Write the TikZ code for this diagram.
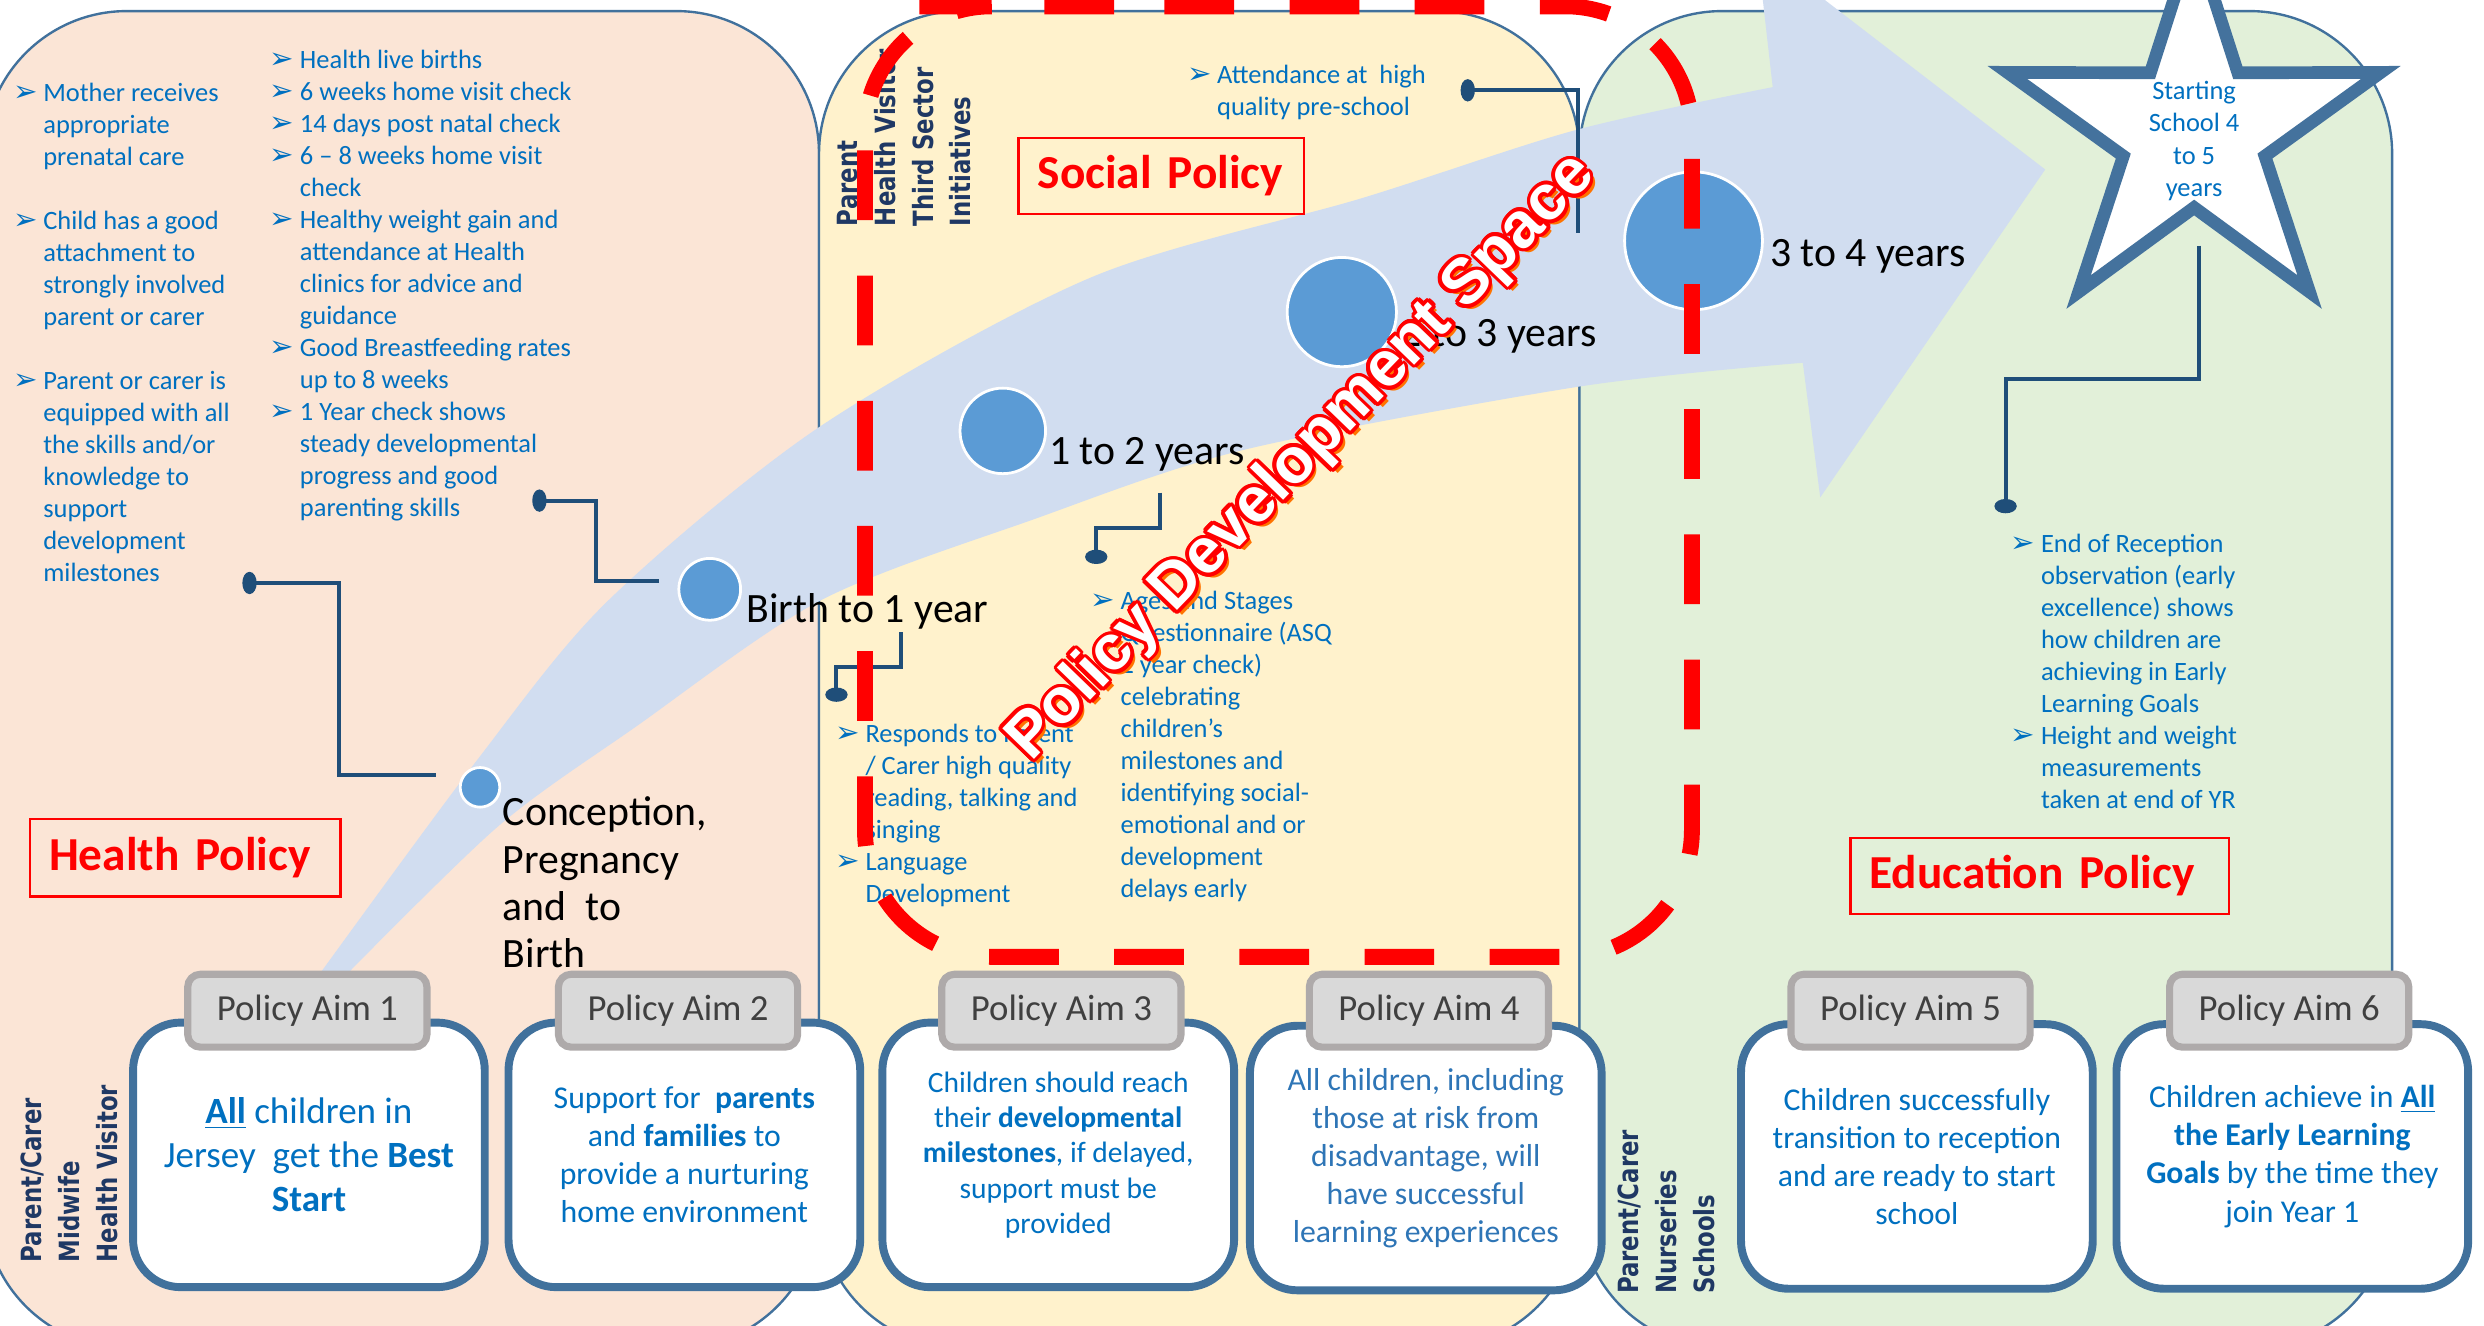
\documentclass[tikz,border=0pt]{standalone}
\usepackage{fontspec}
\setmainfont{Carlito}
\newfontfamily\bulfont{DejaVu Sans}
\newfontfamily\vertfont{DejaVu Sans}
\newfontfamily\pdsfont{Liberation Sans}
\usetikzlibrary{arrows.meta}

\definecolor{peach}{RGB}{251,229,214}
\definecolor{cream}{RGB}{255,242,204}
\definecolor{mint}{RGB}{226,240,217}
\definecolor{edge}{RGB}{65,113,156}
\definecolor{band}{RGB}{209,221,240}
\definecolor{dotblue}{RGB}{91,155,213}
\definecolor{navy}{RGB}{31,78,121}
\definecolor{txtblue}{RGB}{0,112,192}
\definecolor{aimblue}{RGB}{46,117,182}
\definecolor{vnavy}{RGB}{31,56,100}
\definecolor{tabgray}{RGB}{217,217,217}
\definecolor{tabedge}{RGB}{174,170,170}
\definecolor{tabtext}{RGB}{64,64,64}
\definecolor{staredge}{RGB}{68,114,157}

\newcommand\bl{\makebox[3.8mm][l]{\bulfont\fontsize{10.5}{9}\selectfont ➢}}
\newcommand\ind{\hspace*{3.8mm}}
\newcommand\pdslabel{Policy Development Space}

\tikzset{
  panel/.style={draw=edge, line width=0.3mm, rounded corners=18mm},
  bullets/.style={anchor=north west, inner sep=0pt, align=left, text=txtblue, font=\fontsize{9.5}{11.5}\selectfont},
  agedot/.style={circle, fill=dotblue, draw=white, line width=0.35mm, inner sep=0pt},
  agelab/.style={anchor=west, inner sep=0pt, align=left, font=\fontsize{15}{17}\selectfont},
  link/.style={draw=navy, line width=0.5mm, -{Ellipse[length=1.8mm,width=2.8mm]}},
  policy/.style={draw=red, line width=0.3mm, text=red, inner xsep=2.4mm, inner ysep=0pt, align=left, font=\fontsize{17}{20}\selectfont\bfseries},
  vlab/.style={rotate=90, xscale=0.82, anchor=north west, inner sep=0pt, align=left, text=vnavy, font=\vertfont\bfseries\fontsize{10}{13.6}\selectfont},
  starline/.style={draw=staredge, fill=white, line width=1.6mm},
  startxt/.style={align=center, inner sep=0pt, text=txtblue, font=\fontsize{9.5}{11.5}\selectfont},
  aimbox/.style={draw=edge, fill=white, line width=1mm, rounded corners=6mm, minimum width=44.4mm, minimum height=33.4mm, align=center, text=txtblue, font=\fontsize{11.4}{13.7}\selectfont},
  aimtab/.style={draw=tabedge, fill=tabgray, line width=0.9mm, rounded corners=1.6mm, minimum width=30.2mm, minimum height=9.2mm, text=tabtext, font=\fontsize{13.2}{15}\selectfont},
  pdsline/.style={draw=red, line width=2mm, dash pattern=on 8.8mm off 7mm, rounded corners=16mm},
  pdstxt/.style={rotate=46, inner sep=0pt, font=\pdsfont\bfseries\fontsize{23}{26}\selectfont}
}

\begin{document}
\begin{tikzpicture}[x=0.2mm, y=-0.2mm]
\useasboundingbox (0,0) rectangle (1568,837);
\clip (0,0) rectangle (1568,837);
\fill[white] (0,0) rectangle (1568,837);

% policy areas
\draw[panel, fill=peach] (-10,7) rectangle (517,851);
\draw[panel, fill=cream] (517,7) rectangle (997,851);
\draw[panel, fill=mint] (997,7) rectangle (1510,851);

% the journey arrow
\fill[band] plot[smooth] coordinates {(198,620) (301,480) (384,379) (518,269) (689,175) (860,125) (995,82) (1119,55)}
  -- (1109,-33) -- (1291,107) -- (1149,314) -- (1138,229)
  -- plot[smooth] coordinates {(1138,229) (997,244) (785,284) (652,328) (518,379) (401,459) (314,522) (214,620)} -- cycle;

\node[agedot, minimum size=5mm] (conc) at (303,497) {};
\node[agedot, minimum size=7.8mm] (yr0) at (448,372) {};
\node[agedot, minimum size=10.8mm] (yr1) at (633,272) {};
\node[agedot, minimum size=13.8mm] (yr2) at (847,197) {};
\node[agedot, minimum size=17.4mm] (yr3) at (1069,152) {};

\node[agelab] (concl) at (317,557) {Conception,\\Pregnancy\\and\ \ to\\Birth};
\node[agelab] (yr0l) at (471,386) {Birth to 1 year};
\node[agelab] (yr1l) at (662,287) {1 to 2 years};
\node[agelab] (yr2l) at (884,212) {2 to 3 years};
\node[agelab] (yr3l) at (1117,162) {3 to 4 years};

% what is checked
\node[bullets] (hlist) at (8,52) {\bl Mother receives\\ \ind appropriate\\ \ind prenatal care\\[11.5pt]
  \bl Child has a good\\ \ind attachment to\\ \ind strongly involved\\ \ind parent or carer\\[11.5pt]
  \bl Parent or carer is\\ \ind equipped with all\\ \ind the skills and/or\\ \ind knowledge to\\ \ind support\\ \ind development\\ \ind milestones};
\node[bullets] (blist) at (170,31) {\bl Health live births\\ \bl 6 weeks home visit check\\ \bl 14 days post natal check\\
  \bl 6 -- 8 weeks home visit\\ \ind check\\ \bl Healthy weight gain and\\ \ind attendance at Health\\ \ind clinics for advice and\\ \ind guidance\\
  \bl Good Breastfeeding rates\\ \ind up to 8 weeks\\ \bl 1 Year check shows\\ \ind steady developmental\\ \ind progress and good\\ \ind parenting skills};
\node[bullets] (plist) at (749,41) {\bl Attendance at\ \ high\\ \ind quality pre-school};
\node[bullets] (rlist) at (527,457) {\bl Responds to Parent\\ \ind / Carer high quality\\ \ind reading, talking and\\ \ind singing\\ \bl Language\\ \ind Development};
\node[bullets] (alist) at (688,373) {\bl Ages and Stages\\ \ind Questionnaire (ASQ\\ \ind 2 year check)\\ \ind celebrating\\ \ind children’s\\
  \ind milestones and\\ \ind identifying social-\\ \ind emotional and or\\ \ind development\\ \ind delays early};
\node[bullets] (elist) at (1269,337) {\bl End of Reception\\ \ind observation (early\\ \ind excellence) shows\\ \ind how children are\\
  \ind achieving in Early\\ \ind Learning Goals\\ \bl Height and weight\\ \ind measurements\\ \ind taken at end of YR};

\coordinate (k1a) at (275,489); \coordinate (k1b) at (153,368);
\coordinate (k2a) at (416,367); \coordinate (k2b) at (336,316);
\coordinate (k3a) at (569,399); \coordinate (k3b) at (528,443);
\coordinate (k4a) at (732,311); \coordinate (k4b) at (692,356);
\coordinate (k5a) at (996,147); \coordinate (k5b) at (922,57);
\coordinate (k6a) at (1388,155); \coordinate (k6b) at (1266,324);
\draw[link] (k1a) -- ++(-61,0) |- (k1b);
\draw[link] (k2a) -- ++(-40,0) |- (k2b);
\draw[link] (k3a) -- ++(0,22) -| (k3b);
\draw[link] (k4a) -- ++(0,22) -| (k4b);
\draw[link] (k5a) |- (k5b);
\draw[link] (k6a) -- ++(0,84) -| (k6b);

\node[policy, text width=34.4mm, minimum height=9.8mm] (hpol) at (117,541.5) {Health Policy};
\node[policy, text width=31.2mm, minimum height=9.6mm] (spol) at (733,111) {Social Policy};
\node[policy, text width=43mm, minimum height=9.6mm] (epol) at (1287.5,553) {Education Policy};

\node[vlab] (hstaff) at (13,797) {Parent/Carer\\Midwife\\Health Visitor};
\node[vlab] (sstaff) at (528,143) {Parent\\Health Visitor\\Third Sector\\Initiatives};
\node[vlab] (estaff) at (1021,817) {Parent/Carer\\Nurseries\\Schools};

% starting school
\begin{scope}[shift={(1385,84)}]
\draw[starline] (-90:124) -- (-54:47) -- (-18:124) -- (18:47) -- (54:124) -- (90:47) -- (126:124) -- (162:47) -- (198:124) -- (234:47) -- cycle;
\end{scope}
\node[startxt] (goal) at (1385,89) {Starting\\School 4\\to 5\\years};

% policy aims
\node[aimbox, font=\fontsize{13.3}{15.9}\selectfont] (aim1) at (195,729) {\textbf{\underline{All}} children in\\Jersey\ \ get the \textbf{Best}\\\textbf{Start}};
\node[aimbox] (aim2) at (432,729) {Support for\ \ \textbf{parents}\\and \textbf{families} to\\provide a nurturing\\home environment};
\node[aimbox, font=\fontsize{10.6}{12.7}\selectfont] (aim3) at (668,729) {Children should reach\\their \textbf{developmental}\\\textbf{milestones}, if delayed,\\support must be\\provided};
\node[aimbox, text=aimblue] (aim4) at (900,731) {All children, including\\those at risk from\\disadvantage, will\\have successful\\learning experiences};
\node[aimbox] (aim5) at (1210,730) {Children successfully\\transition to reception\\and are ready to start\\school};
\node[aimbox] (aim6) at (1447,730) {Children achieve in \textbf{\underline{All}}\\\textbf{the Early Learning}\\\textbf{Goals} by the time they\\join Year 1};

\node[aimtab] (tab1) at (194,638) {Policy Aim 1};
\node[aimtab] (tab2) at (428,638) {Policy Aim 2};
\node[aimtab] (tab3) at (670,638) {Policy Aim 3};
\node[aimtab] (tab4) at (902,638) {Policy Aim 4};
\node[aimtab] (tab5) at (1206,638) {Policy Aim 5};
\node[aimtab] (tab6) at (1445,638) {Policy Aim 6};

% development space
\draw[pdsline] (655,4) -- (1068,4) -- (1068,604) -- (546,604) -- (546,4) -- cycle;
\coordinate (pdsc) at (822,289);
\node[pdstxt, text=orange!90!red] (pdss) at ([shift={(0.6mm,-0.6mm)}]pdsc) {\pdslabel};
\foreach \a in {0,22.5,...,337.5}
  \node[pdstxt, text=red] at ([shift={(\a:0.45mm)}]pdsc) {\pdslabel};
\node[pdstxt, text=white] (pds) at (pdsc) {\pdslabel};
\end{tikzpicture}
\end{document}
